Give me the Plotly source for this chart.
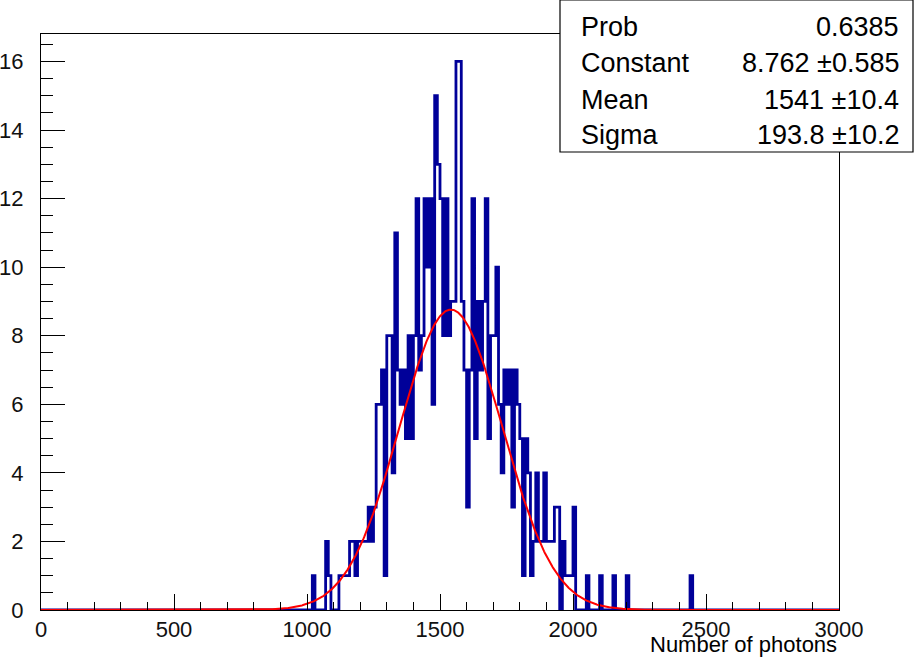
import numpy as np
import plotly.graph_objects as go

# Histogram binning: 300 bins of width 10 over [0, 3000]
x_min, x_max, bin_width = 0, 3000, 10
first_filled_edge = 1000  # counts below start at this edge

counts = [
    0, 0, 1, 0, 0, 0, 0, 2, 1, 0,        # 1000-1090
    0, 0, 1, 1, 1, 1, 2, 2, 1, 2,        # 1100-1190
    2, 2, 2, 3, 2, 3, 6, 6, 7, 1,        # 1200-1290
    8, 8, 4, 11, 7, 6, 7, 5, 8, 5,       # 1300-1390
    8, 12, 7, 8, 12, 10, 12, 6, 15, 13,  # 1400-1490
    12, 8, 12, 8, 9, 9, 16, 16, 9, 7,    # 1500-1590
    3, 7, 12, 5, 9, 7, 9, 12, 5, 8,      # 1600-1690
    8, 10, 6, 4, 7, 6, 7, 3, 7, 6,       # 1700-1790
    5, 1, 5, 4, 1, 2, 4, 2, 2, 4,        # 1800-1890
    2, 2, 2, 3, 3, 0, 2, 1, 1, 1,        # 1900-1990
    3, 0, 0, 0, 0, 1, 0, 0, 0, 0,        # 2000-2090
    1, 0, 0, 0, 0, 1, 0, 0, 0, 0,        # 2100-2190
    1, 0, 0, 0, 0, 0, 0, 0, 0, 0,        # 2200-2290
    0, 0, 0, 0, 0, 0, 0, 0, 0, 0,        # 2300-2390
    0, 0, 0, 0, 1,                       # 2400-2440
]

# Gaussian fit results shown in the stats box
fit_names = ["Prob", "Constant", "Mean", "Sigma"]
fit_values = [0.6385, 8.762, 1541, 193.8]
fit_errors = [None, 0.585, 10.4, 10.2]
fit_texts = ["0.6385", "8.762 \u00b10.585", "1541 \u00b110.4", "193.8 \u00b110.2"]

x_title = "Number of photons"

# ---- build full histogram ----
n_bins = (x_max - x_min) // bin_width
full = np.zeros(n_bins)
start = (first_filled_edge - x_min) // bin_width
full[start:start + len(counts)] = counts
edges = x_min + bin_width * np.arange(n_bins + 1)
step_y = np.append(full, full[-1])

# ---- fitted gaussian ----
const, mean, sigma = fit_values[1], fit_values[2], fit_values[3]
xf = np.linspace(x_min, x_max, 1500)
yf = const * np.exp(-0.5 * ((xf - mean) / sigma) ** 2)

W, H = 915, 659
L, R, T, B = 41, 76, 34, 49
pw, ph = W - L - R, H - T - B

def px(xp):
    return (xp - L) / pw

def py(yp):
    return (H - B - yp) / ph

font_family = "Liberation Sans, Arial, Helvetica, sans-serif"

fig = go.Figure()
fig.add_trace(go.Scatter(
    x=edges, y=step_y, mode="lines", line_shape="hv",
    line=dict(color="#000099", width=2.8), hoverinfo="skip", showlegend=False,
))
fig.add_trace(go.Scatter(
    x=xf, y=yf, mode="lines",
    line=dict(color="#ff0000", width=2), hoverinfo="skip", showlegend=False,
))

fig.update_layout(
    width=W, height=H,
    margin=dict(l=L, r=R, t=T, b=B, pad=0, autoexpand=False),
    paper_bgcolor="white", plot_bgcolor="white",
    font=dict(family=font_family, color="black", size=22),
    showlegend=False,
)

fig.update_xaxes(
    range=[x_min, x_max], showgrid=False, zeroline=False, automargin=False,
    showline=True, linecolor="black", linewidth=1, mirror=True,
    layer="above traces",
    tickmode="linear", tick0=0, dtick=500,
    ticks="inside", ticklen=16, tickwidth=1.2, tickcolor="black",
    tickfont=dict(size=22, color="#111"),
    minor=dict(dtick=100, ticks="inside", ticklen=8, tickcolor="black", tickwidth=1.2),
)
fig.update_yaxes(
    range=[0, 16.8], showgrid=False, zeroline=False, automargin=False,
    showline=True, linecolor="black", linewidth=1, mirror=True,
    layer="above traces",
    tickmode="linear", tick0=0, dtick=2,
    ticks="inside", ticklen=24, tickwidth=1, tickcolor="black",
    tickfont=dict(size=22, color="#111"),
    ticklabelstandoff=12,
    minor=dict(dtick=0.5, ticks="inside", ticklen=12, tickcolor="black", tickwidth=1),
)

# axis title, right-aligned under the axis end
fig.add_annotation(
    x=px(839), y=py(659), xref="paper", yref="paper",
    text=x_title, showarrow=False, xanchor="right", yanchor="bottom",
    font=dict(size=22, color="black"),
)

# statistics box
fig.add_shape(
    type="rect", xref="paper", yref="paper",
    x0=px(560), x1=px(913), y0=py(152), y1=py(0),
    line=dict(color="black", width=1.2), fillcolor="white", layer="above",
)
row_y = [27, 63, 100, 135]
for name, txt, ry in zip(fit_names, fit_texts, row_y):
    fig.add_annotation(
        x=px(579), y=py(ry), xref="paper", yref="paper", text=name,
        showarrow=False, xanchor="left", yanchor="middle",
        font=dict(size=27, color="black"),
    )
    fig.add_annotation(
        x=px(901), y=py(ry), xref="paper", yref="paper", text=txt,
        showarrow=False, xanchor="right", yanchor="middle",
        font=dict(size=27, color="black"),
    )

fig.write_html("out.html")
